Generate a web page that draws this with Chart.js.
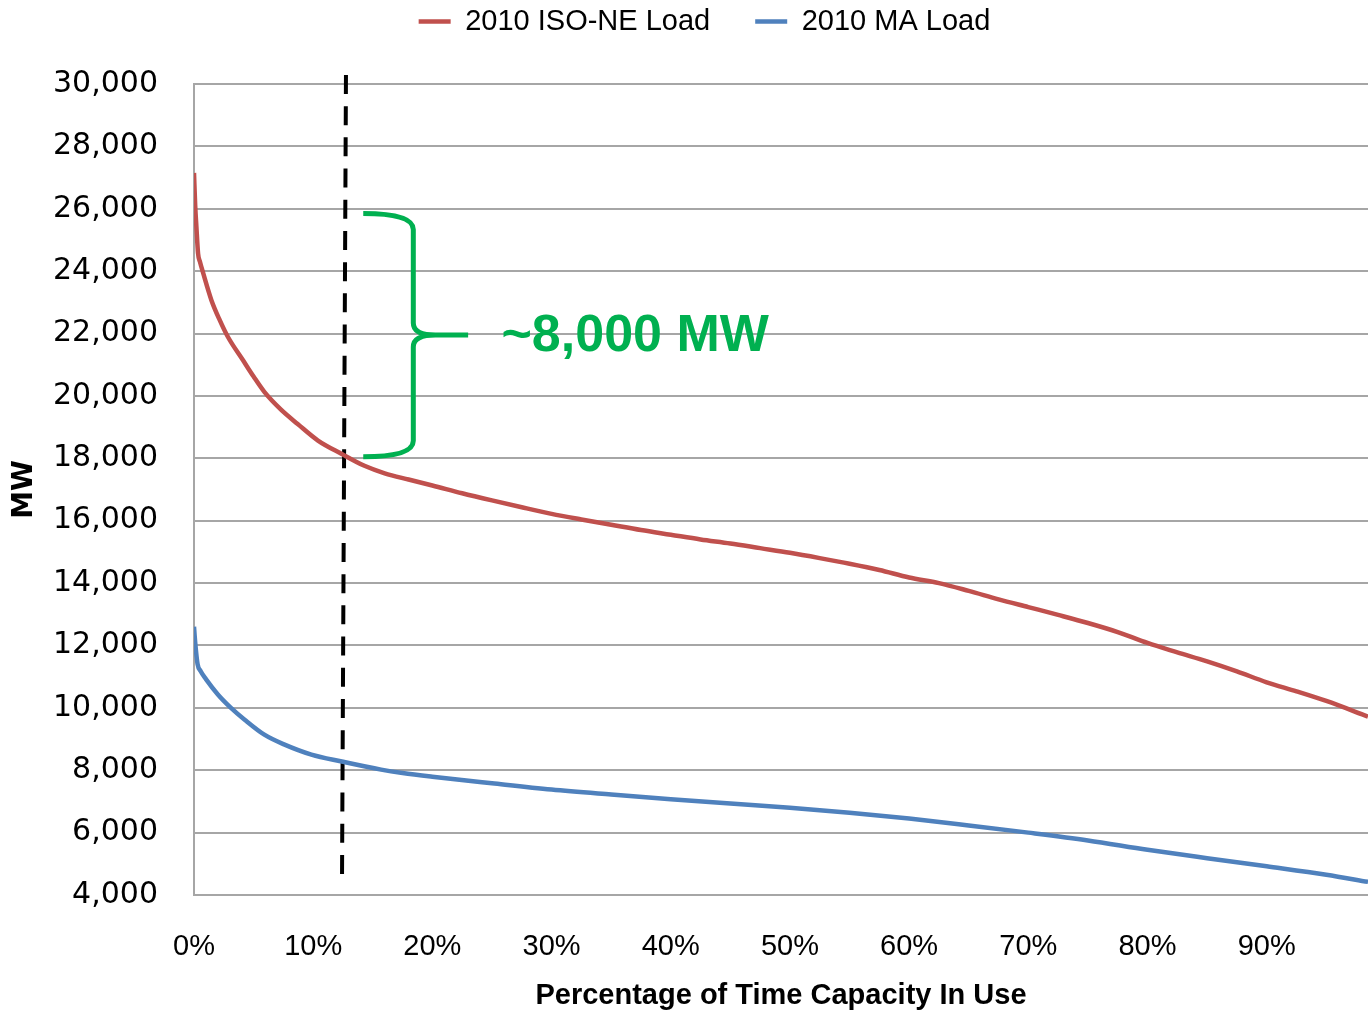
<!DOCTYPE html>
<html>
<head>
<meta charset="utf-8">
<title>2010 Load Duration</title>
<script src="https://cdn.jsdelivr.net/npm/chart.js@4.4.1/dist/chart.umd.min.js"></script>
<style>
    html, body { margin: 0; padding: 0; background: #ffffff; }
    #wrap { width: 1368px; height: 1014px; position: relative; }
</style>
</head>
<body>
<div id="wrap"><canvas id="loadChart"></canvas></div>
<script>
// ============================================
// Data
// ============================================

const isoPct = [0, 0.1, 0.2, 0.34, 0.5, 0.76, 1.46, 2.16, 2.85, 4.1, 5.0, 5.9, 7.3, 8.7, 10.4, 12.4, 14.3, 16, 18,
    20, 22.5, 25, 27.5, 30, 32.5, 35, 37.5, 40, 42.5, 45, 47.5,
    50, 52.5, 55, 57.5, 60, 62.5, 65, 67.5, 70, 72.5, 75, 77.5, 80, 82.5, 85, 87.5, 90, 92.5, 95, 98.5];
const isoLoad = [27150, 26100, 25430, 24570, 24300, 23950, 23070, 22430, 21890, 21150, 20620, 20130, 19560, 19100, 18570, 18140, 17760, 17520, 17320,
    17130, 16880, 16650, 16430, 16220, 16040, 15870, 15700, 15550, 15400, 15270, 15120,
    14970, 14800, 14620, 14420, 14180, 14000, 13750, 13480, 13230, 12980, 12720, 12430, 12080, 11780, 11490, 11170, 10820, 10530, 10220, 9720];

const maPct = [0, 0.1, 0.3, 0.55, 1.0, 2.0, 3.1, 4.25, 5.9, 7.6, 9.85, 12.4, 15.7, 17.5,
    20, 25, 30, 35, 40, 45, 50, 55, 60, 65, 70, 75, 80, 85, 90, 95, 98.5];
const maLoad = [12600, 12100, 11400, 11180, 10920, 10430, 10000, 9620, 9140, 8820, 8500, 8280, 8020, 7910,
    7790, 7580, 7380, 7220, 7070, 6930, 6800, 6640, 6450, 6230, 6000, 5750, 5450, 5180, 4920, 4650, 4420];

// dashed marker line (top / bottom ends)
const markerPct = [12.75, 12.42];
const markerLoad = [30290, 4640];

const seriesLabels = ['2010 ISO-NE Load', '2010 MA Load'];
const xTicks = [0, 10, 20, 30, 40, 50, 60, 70, 80, 90];

// brace annotation, in data units
const brace = { xEnd: 14.2, xSpine: 18.4, xTip: 23.0, yTop: 25850, yMid: 21950, yBottom: 18050 };
const braceText = '~8,000 MW';
const braceTextPct = 25.8;

function toPoints(xs, ys) {
    return xs.map((x, i) => ({ x: x, y: ys[i] }));
}

// ============================================
// Plugins
// ============================================

// legend sits near the top edge with a gap below it, shifted a bit right
const legendSpacing = {
    id: 'legendSpacing',
    beforeInit(chart) {
        const fit = chart.legend.fit;
        chart.legend.fit = function () {
            fit.call(this);
            this.height += 38;
        };
    },
    afterLayout(chart) {
        chart.legend.left = 41;
    }
};

const bracePlugin = {
    id: 'brace',
    afterDatasetsDraw(chart) {
        const ctx = chart.ctx;
        const xs = chart.scales.x, ys = chart.scales.y;
        const xe = xs.getPixelForValue(brace.xEnd);
        const xsp = xs.getPixelForValue(brace.xSpine);
        const xt = xs.getPixelForValue(brace.xTip);
        const yt = ys.getPixelForValue(brace.yTop);
        const ym = ys.getPixelForValue(brace.yMid);
        const yb = ys.getPixelForValue(brace.yBottom);

        ctx.save();
        ctx.strokeStyle = '#00b050';
        ctx.lineWidth = 5;
        ctx.lineJoin = 'round';
        ctx.beginPath();
        ctx.moveTo(xe, yt);
        ctx.quadraticCurveTo(xsp, yt, xsp, yt + 16);
        ctx.lineTo(xsp, ym - 12);
        ctx.quadraticCurveTo(xsp, ym, xsp + 22, ym);
        ctx.lineTo(xt, ym);
        ctx.moveTo(xsp + 22, ym);
        ctx.quadraticCurveTo(xsp, ym, xsp, ym + 12);
        ctx.lineTo(xsp, yb - 16);
        ctx.quadraticCurveTo(xsp, yb, xe, yb);
        ctx.stroke();

        ctx.fillStyle = '#00b050';
        ctx.font = 'bold 52px "Liberation Sans", Arial, sans-serif';
        ctx.textAlign = 'left';
        ctx.textBaseline = 'middle';
        ctx.fillText(braceText, xs.getPixelForValue(braceTextPct), ym + 2);
        ctx.restore();
    }
};

// ============================================
// Chart
// ============================================

const gridGray = '#a6a6a6';

new Chart(document.getElementById('loadChart').getContext('2d'), {
    type: 'line',
    data: {
        datasets: [{
            label: seriesLabels[0],
            data: toPoints(isoPct, isoLoad),
            borderColor: '#c0504d',
            backgroundColor: '#c0504d',
            borderWidth: 4.5,
            pointRadius: 0,
            cubicInterpolationMode: 'monotone'
        }, {
            label: seriesLabels[1],
            data: toPoints(maPct, maLoad),
            borderColor: '#4f81bd',
            backgroundColor: '#4f81bd',
            borderWidth: 4.5,
            pointRadius: 0,
            cubicInterpolationMode: 'monotone'
        }, {
            label: 'marker',
            data: toPoints(markerPct, markerLoad),
            borderColor: '#000000',
            borderWidth: 4,
            borderDash: [19, 12.2],
            pointRadius: 0,
            clip: false
        }]
    },
    options: {
        responsive: true,
        maintainAspectRatio: false,
        animation: false,
        layout: { padding: { top: -38, left: 0, right: 0, bottom: 0 } },
        plugins: {
            tooltip: { enabled: false },
            legend: {
                position: 'top',
                labels: {
                    filter: item => item.text !== 'marker',
                    usePointStyle: true,
                    pointStyle: 'line',
                    pointStyleWidth: 32,
                    color: '#000000',
                    padding: 45,
                    font: { family: '"Liberation Sans", Arial, sans-serif', size: 29 }
                }
            }
        },
        scales: {
            x: {
                type: 'linear',
                min: 0,
                max: 98.5,
                grid: { display: false, drawTicks: false },
                border: { display: true, color: gridGray, width: 2 },
                afterBuildTicks: scale => { scale.ticks = xTicks.map(v => ({ value: v })); },
                afterFit: scale => { scale.height = 119; },
                ticks: {
                    padding: 35,
                    maxRotation: 0,
                    color: '#000000',
                    font: { family: '"Liberation Sans", Arial, sans-serif', size: 29 },
                    callback: v => v + '%'
                },
                title: {
                    display: true,
                    text: 'Percentage of Time Capacity In Use',
                    color: '#000000',
                    padding: { top: 0, bottom: 1 },
                    font: { family: '"Liberation Sans", Arial, sans-serif', size: 29, weight: 'bold' }
                }
            },
            y: {
                min: 4000,
                max: 30000,
                grid: { color: gridGray, lineWidth: 2, drawTicks: false },
                border: { display: true, color: gridGray, width: 2 },
                afterFit: scale => { scale.width = 194; },
                ticks: {
                    stepSize: 2000,
                    padding: 36,
                    color: '#000000',
                    font: { family: '"DejaVu Sans", Verdana, sans-serif', size: 30 },
                    callback: v => v.toLocaleString('en-US')
                },
                title: {
                    display: true,
                    text: 'MW',
                    color: '#000000',
                    padding: { top: 8, bottom: 0 },
                    font: { family: '"DejaVu Sans", Verdana, sans-serif', size: 28, weight: 'bold' }
                }
            }
        }
    },
    plugins: [legendSpacing, bracePlugin]
});
</script>
</body>
</html>
